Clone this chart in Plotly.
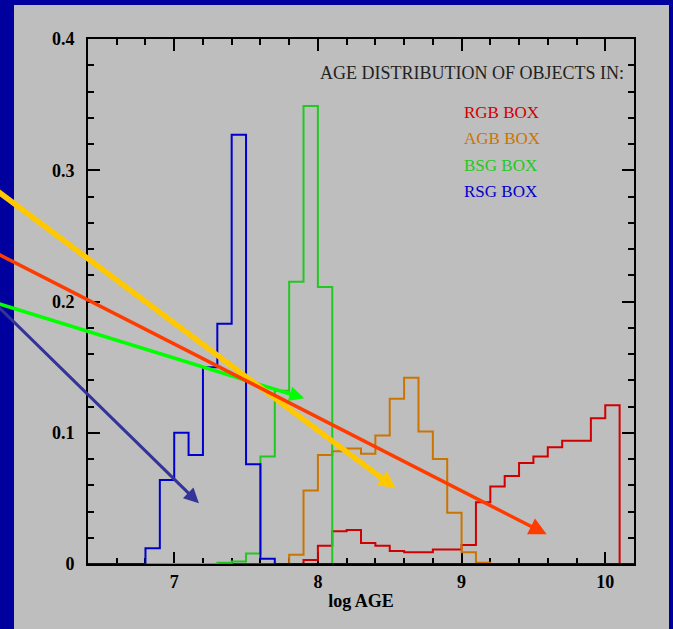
import plotly.graph_objects as go

# ---- data ----
bin_width = 0.1

rgb_start = 7.3
rgb_values = [0, 0, 0, 0, 0, 0,
              0.003, 0.014, 0.025, 0.026, 0.016, 0.014, 0.010, 0.009, 0.009, 0.011, 0.011, 0.0145,
              0.047, 0.059, 0.067, 0.077, 0.082, 0.089, 0.094, 0.094, 0.111, 0.121]

agb_start = 7.8
agb_values = [0.007, 0.056, 0.083, 0.086, 0.088, 0.084, 0.098, 0.126, 0.142, 0.101,
              0.080, 0.039, 0.009, 0.001]

bsg_start = 6.8
bsg_values = [0, 0, 0, 0, 0, 0.001, 0.002, 0.008, 0.082, 0.132, 0.215, 0.349, 0.211]

rsg_start = 6.4
rsg_values = [0, 0, 0, 0, 0.012, 0.064, 0.100, 0.083, 0.150, 0.183, 0.327, 0.076, 0.004] + [0] * 25

series_names = ["RGB BOX", "AGB BOX", "BSG BOX", "RSG BOX"]
series_colors = ["#D00000", "#CC7400", "#22C822", "#0000CC"]

x_ticks = [7, 8, 9, 10]
y_ticks = [0, 0.1, 0.2, 0.3, 0.4]

title_text = "AGE DISTRIBUTION OF OBJECTS IN:"
x_title = "log AGE"

# arrows: tail x, tip (x, y) in data units, colour, width, head size
arrow_tails_x = [5.72, 5.72, 5.72, 5.72]
arrow_tips = [(7.905, 0.1262), (8.540, 0.0577), (9.592, 0.0226), (7.172, 0.0462)]
arrow_colors = ["#00FF00", "#FFC800", "#FF3C00", "#333399"]
arrow_widths = [3.5, 5.5, 3.5, 3]
arrow_sizes = [0.85, 0.62, 1.0, 1.0]
arrow_slopes_px = [0.31, 0.7467, 0.511, 0.98]   # pixel slope of each arrow line


def step_xy(start, values):
    n = len(values)
    edges = [round(start + i * bin_width, 4) for i in range(n + 1)]
    xs = [edges[0]] + edges[:-1] + [edges[-1]]
    ys = [0] + list(values) + [0]
    return xs, ys


fig = go.Figure()
for (start, vals), name, col in zip(
        [(rgb_start, rgb_values), (agb_start, agb_values), (bsg_start, bsg_values), (rsg_start, rsg_values)],
        series_names, series_colors):
    xs, ys = step_xy(start, vals)
    fig.add_trace(go.Scatter(x=xs, y=ys, mode="lines", line=dict(color=col, width=2, shape="hv"),
                             name=name, showlegend=False, hoverinfo="skip"))

W, H = 673, 629
ml, mr, mt, mb = 88, 39, 39, 65
pw, ph = W - ml - mr, H - mt - mb
x_range = [6.4, 10.2]
y_range = [0, 0.4]
xpx = pw / (x_range[1] - x_range[0])
ypx = ph / (y_range[1] - y_range[0])

annotations = []
for tx, (hx, hy), col, w, s, slope in zip(arrow_tails_x, arrow_tips, arrow_colors, arrow_widths, arrow_sizes, arrow_slopes_px):
    dx_px = (hx - tx) * xpx
    ty = hy + dx_px * slope / ypx
    annotations.append(dict(x=hx, y=hy, xref="x", yref="y", ax=tx, ay=ty, axref="x", ayref="y",
                            text="", showarrow=True, arrowhead=2, arrowsize=s, arrowwidth=w,
                            arrowcolor=col, standoff=0))

serif = "Liberation Serif, Times New Roman, serif"
annotations.append(dict(x=(318 - ml) / pw, y=(564 - 73) / ph, xref="paper", yref="paper",
                        text=title_text, showarrow=False, xanchor="left", yanchor="middle",
                        font=dict(family=serif, size=18, color="#222222")))
for i, (name, col) in enumerate(zip(series_names, series_colors)):
    ypix = [112, 138, 165, 191][i]
    annotations.append(dict(x=(462 - ml) / pw, y=(564 - ypix) / ph, xref="paper", yref="paper",
                            text=name, showarrow=False, xanchor="left", yanchor="middle",
                            font=dict(family=serif, size=17, color=col)))

axis_common = dict(showline=True, linecolor="black", linewidth=2, mirror="allticks",
                   ticks="inside", ticklen=12, tickwidth=2, tickcolor="black",
                   showgrid=False, zeroline=False, layer="below traces",
                   tickfont=dict(family=serif, size=18, color="black", weight="bold"))

fig.update_layout(
    width=W, height=H,
    margin=dict(l=ml, r=mr, t=mt, b=mb),
    paper_bgcolor="#00009F",
    plot_bgcolor="#BEBEBE",
    showlegend=False,
    annotations=annotations,
    shapes=[dict(type="rect", xref="paper", yref="paper",
                 x0=(14 - ml) / pw, x1=(669 - ml) / pw, y0=(564 - 640) / ph, y1=(564 - 5) / ph,
                 fillcolor="#BEBEBE", line=dict(width=0), layer="below")],
    xaxis=dict(range=x_range, tickvals=x_ticks, ticktext=[str(v) for v in x_ticks],
               minor=dict(dtick=0.2, tick0=7, ticks="inside", ticklen=6, tickwidth=2, tickcolor="black"),
               title=dict(text=x_title, font=dict(family=serif, size=18, color="black", weight="bold"), standoff=4),
               ticklabelstandoff=0, **axis_common),
    yaxis=dict(range=y_range, tickvals=y_ticks, ticktext=["0", "0.1", "0.2", "0.3", "0.4"],
               minor=dict(dtick=0.02, tick0=0, ticks="inside", ticklen=6, tickwidth=2, tickcolor="black"),
               ticklabelstandoff=8, **axis_common),
)

fig.write_html("out.html")
